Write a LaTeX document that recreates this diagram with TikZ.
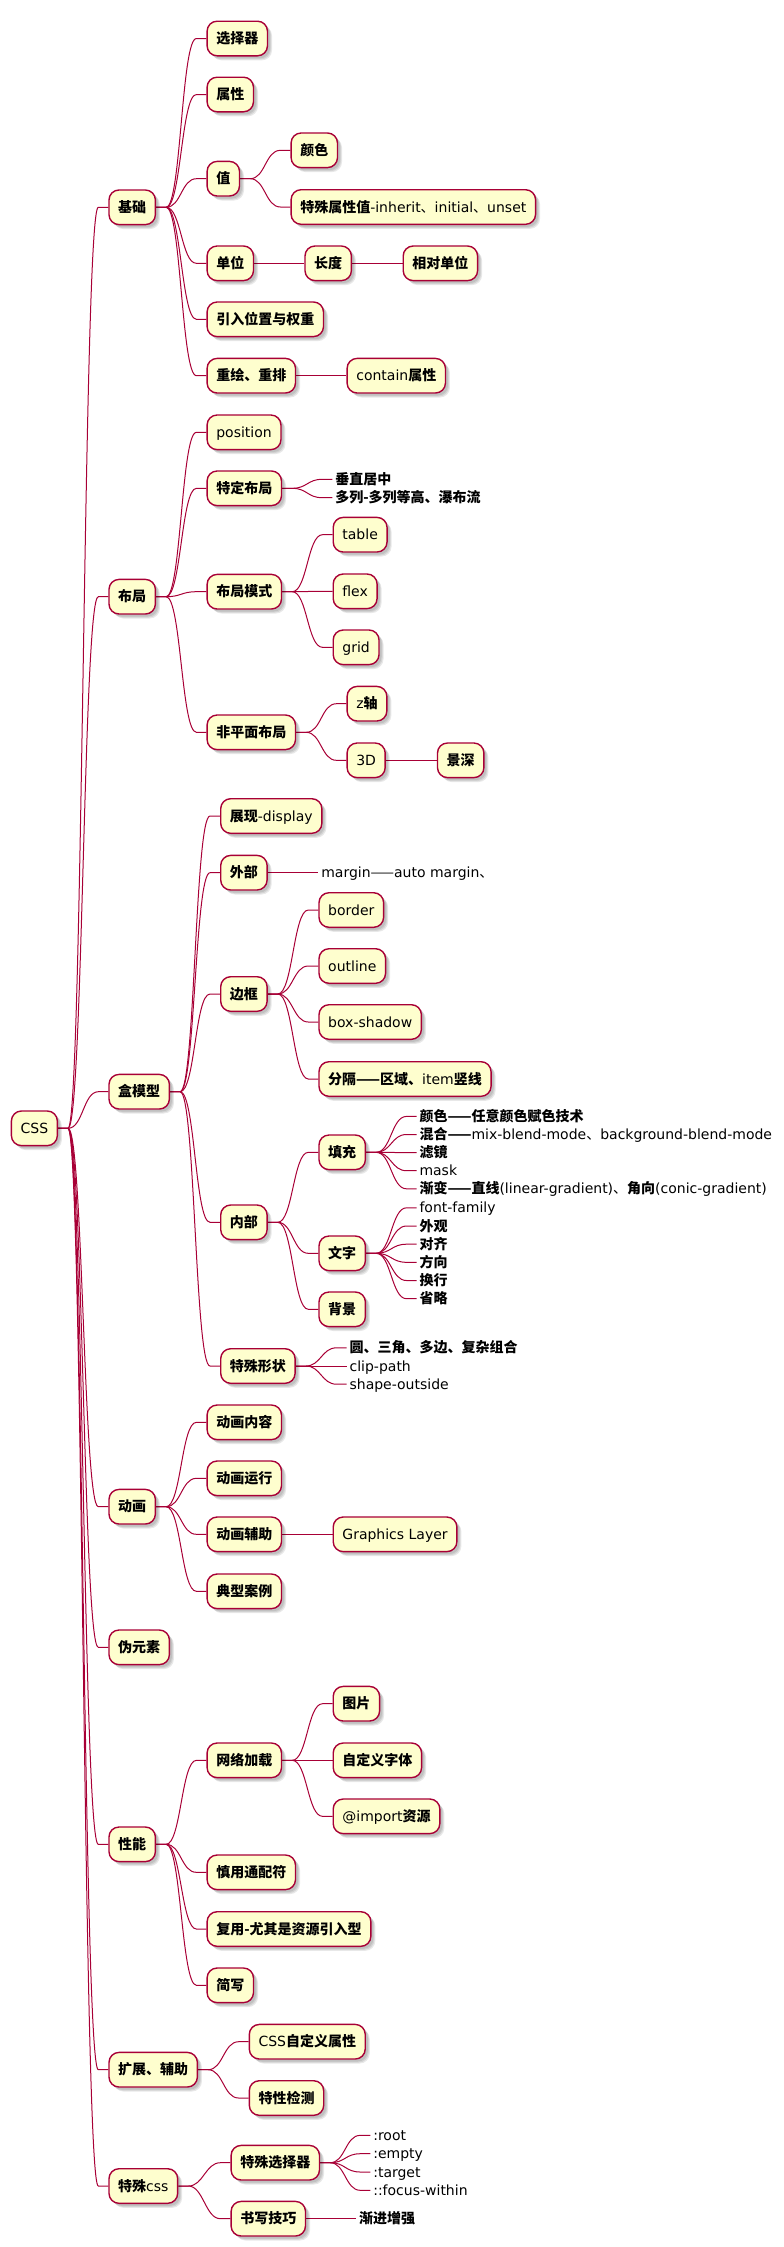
\documentclass[tikz,border=0pt]{standalone}
\usepackage{fontspec}
\setmainfont{DejaVu Sans}
\newfontfamily\zhfont{Noto Sans CJK SC}
\newcommand\zh[1]{{\zhfont\bfseries #1}}
\newcommand\zr[1]{{\zhfont #1}}
\usetikzlibrary{shadows,calc,backgrounds}
\definecolor{nodefill}{HTML}{FEFECE}
\definecolor{linecol}{HTML}{A80036}

\tikzset{
  softshadow/.style={
    general shadow={fill=black, opacity=.09, shadow xshift=2.5pt, shadow yshift=-2.5pt},
    general shadow={fill=black, opacity=.09, shadow xshift=3.5pt, shadow yshift=-3.5pt},
    general shadow={fill=black, opacity=.09, shadow xshift=4.5pt, shadow yshift=-4.5pt}},
  box/.style={draw=linecol, line width=1.4pt, fill=nodefill, rounded corners=10pt,
    minimum height=34.6pt, inner xsep=9.2pt, inner ysep=0pt, anchor=west,
    text height=11.6pt, text depth=1.5pt, softshadow,
    font=\fontsize{14}{17}\selectfont},
  leaf/.style={anchor=west, inner xsep=2.8pt, inner ysep=0pt,
    text height=11.6pt, text depth=1.5pt,
    font=\fontsize{14}{17}\selectfont},
  conn/.style={draw=linecol, line width=1pt}
}

% parent-to-child connector: short stub, S-curve, short stub
\newcommand\link[2]{%
  \draw[conn] (#1.east) -- ++(10pt,0)
    .. controls ($(#1.east)+(25pt,0)$) and ($(#2.west)+(-25pt,0)$)
    .. ($(#2.west)+(-10pt,0)$) -- (#2.west);}

\begin{document}
\begin{tikzpicture}[x=1pt, y=-1pt]
\useasboundingbox (0,0) rectangle (784,2247);

% root
\node[box] (css) at (10.7,1128.3) {CSS};

% first level
\node[box] (jc)    at (108.3,207.3)  {\zh{基础}};
\node[box] (bj)    at (108.3,596.7)  {\zh{布局}};
\node[box] (hmx)   at (108.3,1091.7) {\zh{盒模型}};
\node[box] (dh)    at (108.3,1506.7) {\zh{动画}};
\node[box] (wys)   at (108.3,1647.3) {\zh{伪元素}};
\node[box] (xn)    at (108.3,1844.3) {\zh{性能}};
\node[box] (kz)    at (108.3,2069.7) {\zh{扩展、辅助}};
\node[box] (tscss) at (108.3,2186)   {\zh{特殊}css};

% 基础
\node[box] (xzq)  at (206.4,38.5)  {\zh{选择器}};
\node[box] (sx)   at (206.4,94.5)  {\zh{属性}};
\node[box] (zhi)  at (206.4,178.7) {\zh{值}};
\node[box] (dw)   at (206.4,263.3) {\zh{单位}};
\node[box] (yr)   at (206.4,319.3) {\zh{引入位置与权重}};
\node[box] (ch)   at (206.4,375.7) {\zh{重绘、重排}};
\node[box] (ys)   at (290.4,150.3) {\zh{颜色}};
\node[box] (tsz)  at (290.4,207)   {\zh{特殊属性值}-inherit\zr{、}initial\zr{、}unset};
\node[box] (cd)   at (304.3,263.3) {\zh{长度}};
\node[box] (xddw) at (402.5,263.3) {\zh{相对单位}};
\node[box] (cta)  at (346.4,375.7) {contain\zh{属性}};

% 布局
\node[box]  (pos)  at (206.4,432.3) {position};
\node[box]  (tdbj) at (206.4,488.3) {\zh{特定布局}};
\node[box]  (bjms) at (206.4,591.7) {\zh{布局模式}};
\node[box]  (fpm)  at (206.4,732.3) {\zh{非平面布局}};
\node[leaf] (czjz) at (332.3,479.3) {\zh{垂直居中}};
\node[leaf] (dl)   at (332.3,497.7) {\zh{多列-多列等高、瀑布流}};
\node[box]  (tab)  at (332.5,534.7) {table};
\node[box]  (flex) at (332.5,591.3) {flex};
\node[box]  (grid) at (332.5,647.3) {grid};
\node[box]  (zz)   at (346.4,703.7) {z\zh{轴}};
\node[box]  (d3)   at (346.4,760.3) {3D};
\node[box]  (jsh)  at (436.8,760.3) {\zh{景深}};

% 盒模型
\node[box]  (zx)   at (220,816)     {\zh{展现}-display};
\node[box]  (wb)   at (220,872.7)   {\zh{外部}};
\node[box]  (bk)   at (220,994)     {\zh{边框}};
\node[box]  (nb)   at (220,1222.3)  {\zh{内部}};
\node[box]  (tsxz) at (220,1366)    {\zh{特殊形状}};
\node[leaf] (mg)   at (318.3,872.7) {margin\zr{——}auto margin\zr{、}};
\node[box]  (bor)  at (318.3,910)   {border};
\node[box]  (otl)  at (318.3,966)   {outline};
\node[box]  (bsh)  at (318.3,1022)  {box-shadow};
\node[box]  (fg)   at (318.3,1079)  {\zh{分隔——区域、}item\zh{竖线}};
\node[box]  (tc)   at (318.3,1152.3){\zh{填充}};
\node[box]  (wz)   at (318.3,1253.3){\zh{文字}};
\node[box]  (bg)   at (318.3,1309.3){\zh{背景}};
\node[leaf] (tc1)  at (416.5,1116.4){\zh{颜色——任意颜色赋色技术}};
\node[leaf] (tc2)  at (416.5,1134.5){\zh{混合——}mix-blend-mode\zr{、}background-blend-mode};
\node[leaf] (tc3)  at (416.5,1152.6){\zh{滤镜}};
\node[leaf] (tc4)  at (416.5,1170.7){mask};
\node[leaf] (tc5)  at (416.5,1188.8){\zh{渐变——直线}(linear-gradient)\zr{、}\zh{角向}(conic-gradient)};
\node[leaf] (wz1)  at (416.5,1207.8){font-family};
\node[leaf] (wz2)  at (416.5,1226)  {\zh{外观}};
\node[leaf] (wz3)  at (416.5,1244.2){\zh{对齐}};
\node[leaf] (wz4)  at (416.5,1262.3){\zh{方向}};
\node[leaf] (wz5)  at (416.5,1280.5){\zh{换行}};
\node[leaf] (wz6)  at (416.5,1298.7){\zh{省略}};
\node[leaf] (xz1)  at (346.6,1347.8){\zh{圆、三角、多边、复杂组合}};
\node[leaf] (xz2)  at (346.6,1366)  {clip-path};
\node[leaf] (xz3)  at (346.6,1384.2){shape-outside};

% 动画
\node[box] (dhnr) at (206.4,1422.3) {\zh{动画内容}};
\node[box] (dhyx) at (206.4,1478.3) {\zh{动画运行}};
\node[box] (dhfz) at (206.4,1534.3) {\zh{动画辅助}};
\node[box] (dxal) at (206.4,1591.3) {\zh{典型案例}};
\node[box] (gl)   at (332.5,1534.3) {Graphics Layer};

% 性能
\node[box] (wljz) at (206.4,1760.3) {\zh{网络加载}};
\node[box] (sytp) at (206.4,1872.3) {\zh{慎用通配符}};
\node[box] (fy)   at (206.4,1929)   {\zh{复用-尤其是资源引入型}};
\node[box] (jx)   at (206.4,1985.3) {\zh{简写}};
\node[box] (tp)   at (332.5,1703.7) {\zh{图片}};
\node[box] (zdy)  at (332.5,1760.3) {\zh{自定义字体}};
\node[box] (imp)  at (332.5,1816.3) {@import\zh{资源}};

% 扩展、辅助
\node[box] (cvar) at (248.6,2041.7) {CSS\zh{自定义属性}};
\node[box] (txjc) at (248.6,2098)   {\zh{特性检测}};

% 特殊css
\node[box]  (tsxzq) at (230.4,2162.7) {\zh{特殊选择器}};
\node[box]  (sxjq)  at (230.4,2218.7) {\zh{书写技巧}};
\node[leaf] (ps1)   at (370.3,2135.3) {:root};
\node[leaf] (ps2)   at (370.3,2153.7) {:empty};
\node[leaf] (ps3)   at (370.3,2172)   {:target};
\node[leaf] (ps4)   at (370.3,2190.3) {::focus-within};
\node[leaf] (jjzq)  at (356,2218.7)   {\zh{渐进增强}};

\begin{pgfonlayer}{background}
\foreach \c in {jc,bj,hmx,dh,wys,xn,kz,tscss} {\link{css}{\c}}
\foreach \c in {xzq,sx,zhi,dw,yr,ch} {\link{jc}{\c}}
\link{zhi}{ys} \link{zhi}{tsz} \link{dw}{cd} \link{cd}{xddw} \link{ch}{cta}
\foreach \c in {pos,tdbj,bjms,fpm} {\link{bj}{\c}}
\link{tdbj}{czjz} \link{tdbj}{dl}
\foreach \c in {tab,flex,grid} {\link{bjms}{\c}}
\link{fpm}{zz} \link{fpm}{d3} \link{d3}{jsh}
\foreach \c in {zx,wb,bk,nb,tsxz} {\link{hmx}{\c}}
\link{wb}{mg}
\foreach \c in {bor,otl,bsh,fg} {\link{bk}{\c}}
\foreach \c in {tc,wz,bg} {\link{nb}{\c}}
\foreach \c in {tc1,tc2,tc3,tc4,tc5} {\link{tc}{\c}}
\foreach \c in {wz1,wz2,wz3,wz4,wz5,wz6} {\link{wz}{\c}}
\foreach \c in {xz1,xz2,xz3} {\link{tsxz}{\c}}
\foreach \c in {dhnr,dhyx,dhfz,dxal} {\link{dh}{\c}}
\link{dhfz}{gl}
\foreach \c in {wljz,sytp,fy,jx} {\link{xn}{\c}}
\foreach \c in {tp,zdy,imp} {\link{wljz}{\c}}
\link{kz}{cvar} \link{kz}{txjc}
\link{tscss}{tsxzq} \link{tscss}{sxjq}
\foreach \c in {ps1,ps2,ps3,ps4} {\link{tsxzq}{\c}}
\link{sxjq}{jjzq}
\end{pgfonlayer}
\end{tikzpicture}
\end{document}
